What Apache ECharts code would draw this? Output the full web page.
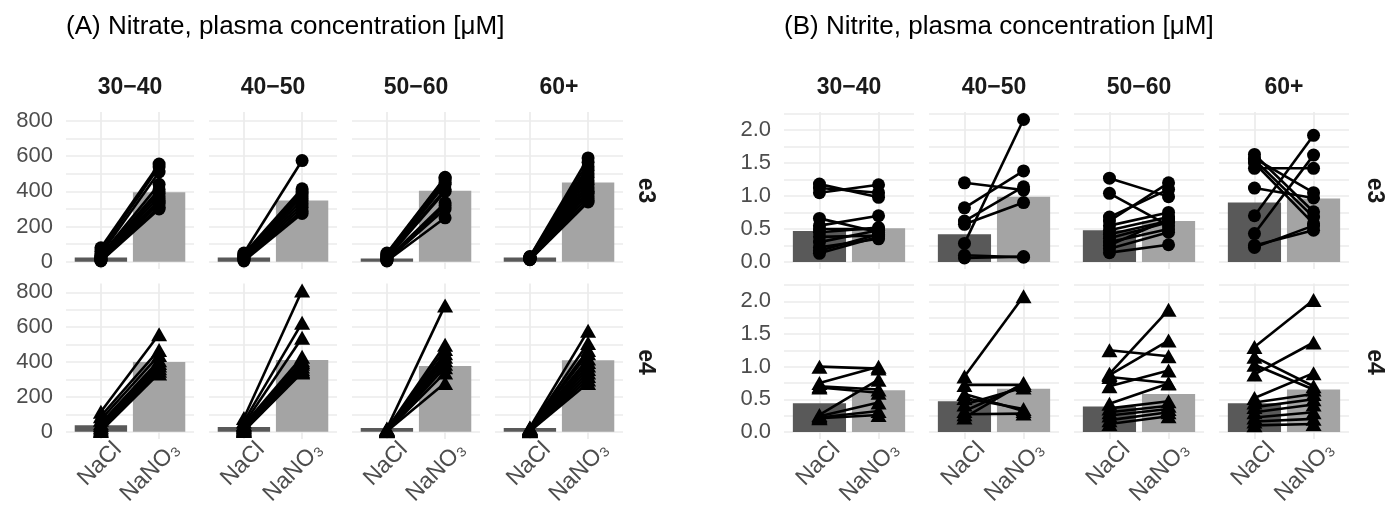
<!DOCTYPE html>
<html>
<head>
<meta charset="utf-8">
<script src="https://cdn.jsdelivr.net/npm/echarts@6/dist/echarts.min.js"></script>
<style>
  html, body { margin: 0; background: #fff; }
  #chart-container { width: 1392px; height: 508px; }
</style>
</head>
<body>
<div id="chart-container"></div>
<script>
const ageGroups = ['30−40', '40−50', '50−60', '60+'];
const stripRows = ['e3', 'e4'];
const treatments = ['NaCl', 'NaNO₃'];

const nitrateTicks = [0, 200, 400, 600, 800];
const nitrateGridValues = [0, 100, 200, 300, 400, 500, 600, 700, 800];
const nitriteTicks = [0, 0.5, 1, 1.5, 2];
const nitriteGridValues = [0, 0.25, 0.5, 0.75, 1, 1.25, 1.5, 1.75, 2, 2.25];

// bar heights per age group: [NaCl, NaNO3]
const nitrateBarsE3 = [[25, 395], [25, 348], [19, 403], [25, 450]];
const nitrateBarsE4 = [[38, 400], [28, 412], [22, 378], [22, 410]];
const nitriteBarsE3 = [[0.47, 0.51], [0.42, 0.99], [0.48, 0.62], [0.90, 0.96]];
const nitriteBarsE4 = [[0.44, 0.64], [0.47, 0.66], [0.39, 0.58], [0.44, 0.65]];

// paired subjects, NaCl -> NaNO3, per age group
const nitrateE3NaCl = [
  [80, 60, 45, 35, 30, 25, 20, 15, 12, 10, 8, 5],
  [50, 45, 40, 35, 30, 25, 20, 15, 10, 5],
  [50, 45, 40, 35, 30, 25, 20, 15, 10, 8, 5],
  [30, 28, 26, 25, 24, 22, 20, 20, 18, 17, 16, 15, 14, 12]
];
const nitrateE3NaNO3 = [
  [555, 540, 510, 440, 410, 390, 370, 350, 340, 330, 310, 300],
  [575, 415, 400, 385, 370, 350, 330, 310, 290, 275],
  [480, 475, 465, 450, 440, 410, 400, 335, 320, 300, 250],
  [590, 565, 540, 520, 500, 480, 460, 440, 420, 400, 390, 370, 350, 340]
];
const nitrateE4NaCl = [
  [115, 90, 70, 50, 40, 30, 20, 10, 5],
  [80, 60, 45, 40, 35, 30, 25, 20, 15, 10, 8, 5],
  [20, 15, 14, 12, 10, 10, 8, 6, 5, 3],
  [25, 22, 20, 18, 15, 14, 12, 10, 8, 6, 5, 3]
];
const nitrateE4NaNO3 = [
  [560, 470, 440, 410, 395, 380, 365, 350, 335],
  [810, 625, 540, 430, 410, 400, 390, 375, 360, 350, 345, 340],
  [725, 500, 475, 450, 430, 410, 390, 370, 340, 280],
  [580, 510, 470, 450, 420, 400, 380, 360, 340, 320, 300, 280]
];
const nitriteE3NaCl = [
  [1.18, 1.12, 1.05, 0.66, 0.55, 0.50, 0.45, 0.38, 0.30, 0.22, 0.17, 0.13],
  [1.20, 0.82, 0.62, 0.57, 0.28, 0.10, 0.06],
  [1.27, 1.04, 0.68, 0.62, 0.55, 0.48, 0.42, 0.36, 0.30, 0.25, 0.20, 0.14],
  [1.63, 1.57, 1.50, 1.42, 1.12, 0.70, 0.43, 0.25, 0.22, 1.55]
];
const nitriteE3NaNO3 = [
  [0.98, 1.05, 1.17, 0.45, 0.70, 0.50, 0.52, 0.40, 0.48, 0.35, 0.42, 0.38],
  [1.09, 1.38, 1.14, 0.90, 2.16, 0.07, 0.08],
  [0.99, 0.55, 1.10, 1.20, 0.75, 0.68, 0.62, 0.60, 0.50, 0.65, 0.45, 0.26],
  [0.76, 1.05, 0.58, 1.42, 0.97, 1.92, 1.62, 0.48, 0.55, 0.68]
];
const nitriteE4NaCl = [
  [1.00, 0.75, 0.70, 0.68, 0.26, 0.24, 0.22, 0.21],
  [0.85, 0.72, 0.58, 0.52, 0.42, 0.32, 0.27, 0.22],
  [1.25, 0.89, 0.87, 0.84, 0.70, 0.43, 0.36, 0.30, 0.25, 0.18, 0.12],
  [1.30, 1.15, 1.03, 0.88, 0.52, 0.45, 0.38, 0.30, 0.22, 0.16, 0.10]
];
const nitriteE4NaNO3 = [
  [0.97, 1.00, 0.65, 0.60, 0.80, 0.45, 0.32, 0.26],
  [2.08, 0.72, 0.32, 0.35, 0.68, 0.72, 0.28, 0.75],
  [1.16, 1.87, 1.40, 0.75, 0.94, 0.74, 0.47, 0.40, 0.35, 0.30, 0.24],
  [2.02, 0.70, 0.65, 1.37, 0.90, 0.58, 0.50, 0.42, 0.30, 0.20, 0.12]
];

const FONT = 'Liberation Sans, Arial, Helvetica, sans-serif';
const gridColor = '#ebebeb';
const barColors = ['#595959', '#a4a4a4'];

const panels = [
  {
    title: '(A) Nitrate, plasma concentration [μM]',
    left: 66, step: 143, width: 128, stripX: 645,
    min: -40.5, max: 850.5,
    ticks: nitrateTicks, gridValues: nitrateGridValues,
    fmt: v => String(v),
    bars: [nitrateBarsE3, nitrateBarsE4],
    nacl: [nitrateE3NaCl, nitrateE4NaCl],
    nano3: [nitrateE3NaNO3, nitrateE4NaNO3]
  },
  {
    title: '(B) Nitrite, plasma concentration [μM]',
    left: 784, step: 145, width: 130, stripX: 1374,
    min: -0.108, max: 2.274,
    ticks: nitriteTicks, gridValues: nitriteGridValues,
    fmt: v => v.toFixed(1),
    bars: [nitriteBarsE3, nitriteBarsE4],
    nacl: [nitriteE3NaCl, nitriteE4NaCl],
    nano3: [nitriteE3NaNO3, nitriteE4NaNO3]
  }
];
const rowTops = [112, 283.5];
const rowHeight = 157;

let grids = [], xAxes = [], yAxes = [], series = [], graphics = [];

panels.forEach(p => {
  const unit = p.width / 2.2;          // px per category step
  const labelShift = 17 / unit;        // rotated labels sit right of the tick
  graphics.push({
    type: 'text', x: p.left, y: 27,
    style: { text: p.title, font: '26px ' + FONT, fill: '#000', textAlign: 'left', textVerticalAlign: 'middle' }
  });
  ageGroups.forEach((age, c) => {
    graphics.push({
      type: 'text', x: p.left + c * p.step + p.width / 2, y: 88,
      style: { text: age, font: 'bold 23px ' + FONT, fill: '#1a1a1a', textAlign: 'center', textVerticalAlign: 'middle' }
    });
  });
  stripRows.forEach((row, r) => {
    graphics.push({
      type: 'text', x: p.stripX, y: rowTops[r] + rowHeight / 2, rotation: -Math.PI / 2,
      style: { text: row, font: 'bold 23px ' + FONT, fill: '#1a1a1a', textAlign: 'center', textVerticalAlign: 'middle' }
    });
    ageGroups.forEach((age, c) => {
      const g = grids.length;
      const left = p.left + c * p.step;
      grids.push({ left: left, top: rowTops[r], width: p.width, height: rowHeight });
      xAxes.push({
        type: 'value', gridIndex: g, min: 0.4, max: 2.6,
        axisLine: { show: false },
        axisTick: { show: false, customValues: [1, 2] },
        splitLine: { show: true, lineStyle: { color: gridColor, width: 1.7 } },
        axisLabel: {
          show: r === 1, customValues: [1 + labelShift, 2 + labelShift],
          formatter: v => treatments[v < 1.5 ? 0 : 1],
          rotate: 45, margin: 7, fontSize: 23, fontFamily: FONT, color: '#4d4d4d'
        }
      });
      yAxes.push({
        type: 'value', gridIndex: g, min: p.min, max: p.max,
        axisLine: { show: false },
        axisTick: { show: false, customValues: p.gridValues },
        splitLine: { show: true, lineStyle: { color: gridColor, width: 1.7 } },
        axisLabel: {
          show: c === 0, customValues: p.ticks, formatter: p.fmt,
          margin: 13, fontSize: 22, fontFamily: FONT, color: '#4d4d4d'
        }
      });
      const b = p.bars[r][c];
      series.push({
        type: 'bar', xAxisIndex: g, yAxisIndex: g, silent: true, z: 1,
        barWidth: unit * 0.9,
        data: [
          { value: [1, b[0]], itemStyle: { color: barColors[0] } },
          { value: [2, b[1]], itemStyle: { color: barColors[1] } }
        ]
      });
      const a = p.nacl[r][c], n = p.nano3[r][c];
      for (let i = 0; i < a.length; i++) {
        series.push({
          type: 'line', xAxisIndex: g, yAxisIndex: g, silent: true, z: 3, clip: false,
          symbol: r === 0 ? 'circle' : 'triangle',
          symbolSize: r === 0 ? 13 : [16, 14],
          lineStyle: { color: '#000', width: 2.6 },
          itemStyle: { color: '#000' },
          data: [[1, a[i]], [2, n[i]]]
        });
      }
    });
  });
});

const myChart = echarts.init(document.getElementById('chart-container'), null, { renderer: 'canvas' });
myChart.setOption({
  animation: false,
  backgroundColor: '#fff',
  grid: grids,
  xAxis: xAxes,
  yAxis: yAxes,
  series: series,
  graphic: graphics
});
</script>
</body>
</html>
